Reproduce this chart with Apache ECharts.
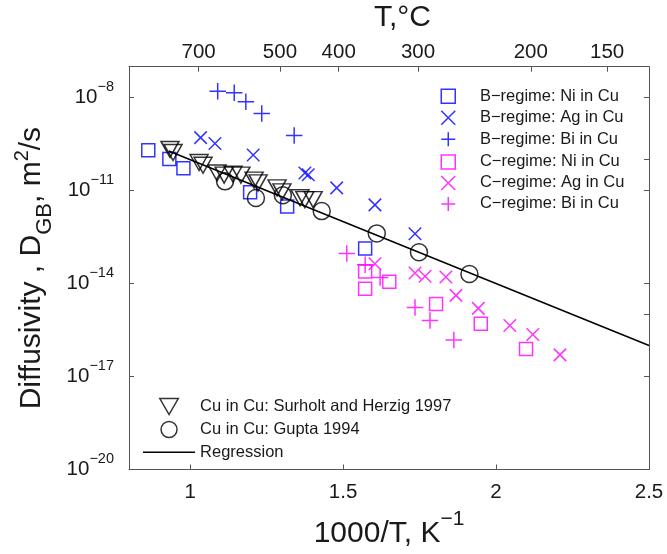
<!DOCTYPE html>
<html><head><meta charset="utf-8">
<script src="https://cdn.jsdelivr.net/npm/echarts@6/dist/echarts.min.js"></script>
<style>html,body{margin:0;padding:0;background:#fff}#c{width:667px;height:554px}</style>
</head><body><div id="c"></div>
<script>
// x values: 1000/T in K^-1 ; y values: log10 of D_GB in m^2/s
const xTicks = [1, 1.5, 2, 2.5];
const yTickExp = [-20, -17, -14, -11, -8];
const yRightTickExp = [-8, -10, -11, -14, -15, -17];
const topTempC = [700, 500, 400, 300, 200, 150];

const bNiX = [0.863, 0.932, 0.978, 1.196, 1.317, 1.572];
const bNiY = [-9.70, -9.98, -10.28, -11.05, -11.51, -12.87];
const bAgX = [1.034, 1.081, 1.206, 1.375, 1.386, 1.479, 1.604, 1.735];
const bAgY = [-9.29, -9.48, -9.85, -10.43, -10.49, -10.91, -11.46, -12.39];
const bBiX = [1.090, 1.144, 1.182, 1.234, 1.340];
const bBiY = [-7.79, -7.84, -8.13, -8.51, -9.22];

const cNiX = [1.572, 1.572, 1.651, 1.804, 1.950, 2.098];
const cNiY = [-13.61, -14.17, -13.94, -14.66, -15.30, -16.11];
const cAgX = [1.604, 1.735, 1.768, 1.836, 1.869, 1.942, 2.045, 2.120, 2.209];
const cAgY = [-13.36, -13.66, -13.76, -13.79, -14.38, -14.80, -15.35, -15.64, -16.30];
const cBiX = [1.512, 1.572, 1.621, 1.735, 1.784, 1.862];
const cBiY = [-13.03, -13.39, -13.80, -14.77, -15.19, -15.82];

const shX = [0.934, 0.944, 1.029, 1.042, 1.088, 1.111, 1.140, 1.166, 1.209, 1.222, 1.284, 1.300, 1.359, 1.375, 1.402];
const shY = [-9.67, -9.77, -10.09, -10.18, -10.43, -10.50, -10.47, -10.50, -10.66, -10.75, -10.91, -11.04, -11.23, -11.29, -11.29];
const guX = [1.114, 1.215, 1.303, 1.430, 1.610, 1.748, 1.913];
const guY = [-10.70, -11.24, -11.15, -11.66, -12.38, -12.99, -13.69];

const regX = [0.93, 2.5];
const regY = [-9.72, -16.0];

const pts = (xs, ys) => xs.map((x, i) => [x, ys[i]]);

const FONT = "'Liberation Sans', Arial, Helvetica, sans-serif";
const TXT = '#1a1a1a';
const AX = '#555';
const BLUE = '#0000ff';
const MAG = '#ff00ff';

const SQ = 'path://M0,0H10V10H0Z';
const XS = 'path://M0,0L10,10M10,0L0,10';
const PL = 'path://M5,0V10M0,5H10';
const TRI = 'path://M0,0H10L5,8.66Z';
const CIR = 'path://M0,5A5,5,0,1,1,10,5A5,5,0,1,1,0,5Z';

function sc(name, data, symbol, size, color) {
  return {
    type: 'scatter', name, data, symbol, symbolSize: size,
    itemStyle: { color: 'transparent', borderColor: color, borderWidth: 1.5 },
    xAxisIndex: 0, yAxisIndex: 0, silent: true
  };
}

const labelBase = { fontFamily: FONT, fontSize: 20.5, color: TXT };

const option = {
  animation: false,
  backgroundColor: '#fff',
  title: {
    text: 'T,°C', left: 374, top: 3, padding: 0,
    textStyle: { fontFamily: FONT, fontSize: 30, fontWeight: 'normal', color: TXT }
  },
  grid: { left: 129, top: 66.7, width: 520, height: 410, containLabel: false },
  xAxis: [
    {
      type: 'value', position: 'bottom', min: 0.8, max: 2.5,
      name: '1000/T, K{s|\u22121}', nameLocation: 'middle', nameGap: 39,
      nameTextStyle: { fontFamily: FONT, fontSize: 30, color: TXT,
        rich: { s: { fontFamily: FONT, fontSize: 21, color: TXT, padding: [0, 0, 30, 0] } } },
      axisLine: { show: true, lineStyle: { color: AX, width: 1 } },
      axisTick: { show: true, inside: true, length: 5, lineStyle: { color: AX }, customValues: xTicks },
      axisLabel: Object.assign({ margin: 12, customValues: xTicks, formatter: v => String(v) }, labelBase),
      splitLine: { show: false }
    },
    {
      type: 'value', position: 'top', min: 0.8, max: 2.5,
      axisLine: { show: true, lineStyle: { color: AX, width: 1 } },
      axisTick: { show: true, inside: true, length: 5, lineStyle: { color: AX },
        customValues: topTempC.map(c => 1000 / (c + 273.15)) },
      axisLabel: Object.assign({ margin: 4, customValues: topTempC.map(c => 1000 / (c + 273.15)),
        formatter: v => String(Math.round(1000 / v - 273.15)) }, labelBase),
      splitLine: { show: false }
    }
  ],
  yAxis: [
    {
      type: 'value', position: 'left', min: -20, max: -7,
      name: 'Diffusivity , D{sub|GB}, m{sup|2}/s', nameLocation: 'middle', nameGap: 73,
      nameTextStyle: { fontFamily: FONT, fontSize: 30, color: TXT,
        rich: {
          sub: { fontFamily: FONT, fontSize: 22, color: TXT, padding: [26, 0, 0, 0] },
          sup: { fontFamily: FONT, fontSize: 20, color: TXT, padding: [0, 0, 18, 0] }
        } },
      axisLine: { show: true, lineStyle: { color: AX, width: 1 } },
      axisTick: { show: true, inside: true, length: 5, lineStyle: { color: AX }, customValues: yTickExp },
      axisLabel: {
        margin: 15, customValues: yTickExp,
        formatter: v => '{b|10}{s|' + (v < 0 ? '\u2212' : '') + Math.abs(v) + '}',
        rich: {
          b: { fontFamily: FONT, fontSize: 20.5, color: TXT },
          s: { fontFamily: FONT, fontSize: 14.5, color: TXT, padding: [0, 0, 22, 0] }
        }
      },
      splitLine: { show: false }
    },
    {
      type: 'value', position: 'right', min: -20, max: -7,
      axisLine: { show: true, lineStyle: { color: AX, width: 1 } },
      axisTick: { show: true, inside: true, length: 5, lineStyle: { color: AX }, customValues: yRightTickExp },
      axisLabel: { show: false },
      splitLine: { show: false }
    }
  ],
  legend: [
    {
      data: ['B\u2212regime: Ni in Cu', 'B\u2212regime: Ag in Cu', 'B\u2212regime: Bi in Cu'],
      orient: 'vertical', left: 440.5, top: 87.75, itemWidth: 53.4, itemHeight: 14, itemGap: 4.5,
      padding: 0, selectedMode: false, itemStyle: { borderWidth: 1.5 },
      textStyle: { fontFamily: FONT, fontSize: 16.5, color: TXT }
    },
    {
      data: ['C\u2212regime: Ni in Cu', 'C\u2212regime: Ag in Cu', 'C\u2212regime: Bi in Cu'],
      orient: 'vertical', left: 440.5, top: 153.45, itemWidth: 53.4, itemHeight: 14, itemGap: 4,
      padding: 0, selectedMode: false, itemStyle: { borderWidth: 1.5 },
      textStyle: { fontFamily: FONT, fontSize: 16.5, color: TXT }
    },
    {
      data: ['Cu in Cu: Surholt and Herzig 1997', 'Cu in Cu: Gupta 1994',
        { name: 'Regression', itemStyle: { color: 'transparent', borderColor: 'transparent', borderWidth: 0 } }],
      orient: 'vertical', left: 142.3, top: 397.75, itemWidth: 52, itemHeight: 16, itemGap: 5.5,
      padding: 0, selectedMode: false, itemStyle: { borderWidth: 1.5 }, lineStyle: { width: 1.5 },
      textStyle: { fontFamily: FONT, fontSize: 16.5, color: TXT }
    }
  ],
  series: [
    sc('B\u2212regime: Ni in Cu', pts(bNiX, bNiY), SQ, 13, BLUE),
    sc('B\u2212regime: Ag in Cu', pts(bAgX, bAgY), XS, 12.5, BLUE),
    sc('B\u2212regime: Bi in Cu', pts(bBiX, bBiY), PL, 16.5, BLUE),
    sc('C\u2212regime: Ni in Cu', pts(cNiX, cNiY), SQ, 13, MAG),
    sc('C\u2212regime: Ag in Cu', pts(cAgX, cAgY), XS, 12.5, MAG),
    sc('C\u2212regime: Bi in Cu', pts(cBiX, cBiY), PL, 16.5, MAG),
    sc('Cu in Cu: Surholt and Herzig 1997', pts(shX, shY), TRI, [18, 16], '#000'),
    sc('Cu in Cu: Gupta 1994', pts(guX, guY), CIR, 17, '#000'),
    {
      type: 'line', name: 'Regression', data: pts(regX, regY), symbol: 'none',
      lineStyle: { color: '#000', width: 1.5 }, xAxisIndex: 0, yAxisIndex: 0, silent: true, z: 3
    }
  ]
};

const chart = echarts.init(document.getElementById('c'), null, { renderer: 'canvas' });
chart.setOption(option);
</script>
</body></html>
